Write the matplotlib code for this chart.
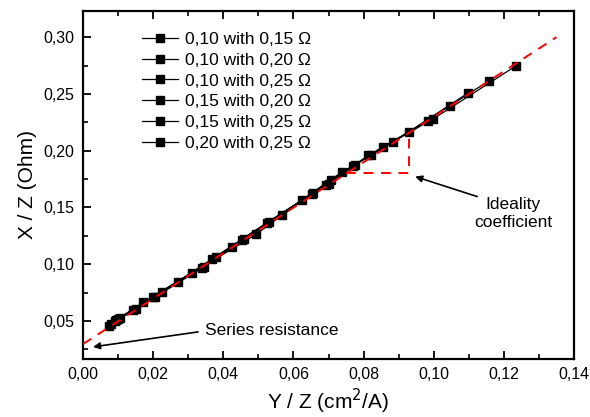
import matplotlib
matplotlib.use("Agg")
import matplotlib.pyplot as plt

plt.rcParams['font.family'] = ['Liberation Sans', 'DejaVu Sans']

labels = ["0,10 with 0,15 \u03a9", "0,10 with 0,20 \u03a9", "0,10 with 0,25 \u03a9",
          "0,15 with 0,20 \u03a9", "0,15 with 0,25 \u03a9", "0,20 with 0,25 \u03a9"]

s1_x = [0.0075, 0.0143, 0.0272, 0.0424, 0.0567, 0.0706, 0.0855, 0.0999, 0.1235]
s1_y = [0.0460, 0.0596, 0.0845, 0.1155, 0.1430, 0.1746, 0.2029, 0.2281, 0.2748]
s2_x = [0.0091, 0.0172, 0.0310, 0.0453, 0.0624, 0.0738, 0.0883, 0.1046, 0.1158]
s2_y = [0.0503, 0.0664, 0.0927, 0.1213, 0.1564, 0.1810, 0.2073, 0.2395, 0.2617]
s3_x = [0.0106, 0.0200, 0.0338, 0.0493, 0.0652, 0.0771, 0.0930, 0.1097]
s3_y = [0.0526, 0.0708, 0.0971, 0.1263, 0.1620, 0.1868, 0.2169, 0.2506]
s4_x = [0.0080, 0.0224, 0.0367, 0.0524, 0.0693, 0.0814, 0.0985]
s4_y = [0.0470, 0.0752, 0.1044, 0.1366, 0.1702, 0.1959, 0.2266]
s5_x = [0.0095, 0.0205, 0.0379, 0.0530, 0.0700, 0.0820]
s5_y = [0.0508, 0.0714, 0.1064, 0.1372, 0.1710, 0.1966]
s6_x = [0.0100, 0.0150, 0.0345, 0.0460, 0.0655, 0.0775]
s6_y = [0.0515, 0.0604, 0.0978, 0.1220, 0.1626, 0.1874]

series_x = [s1_x, s2_x, s3_x, s4_x, s5_x, s6_x]
series_y = [s1_y, s2_y, s3_y, s4_y, s5_y, s6_y]

fit_x = [0.0, 0.135]
fit_y = [0.0297, 0.300]
tri_x = [0.075, 0.093, 0.093]
tri_y = [0.180, 0.180, 0.216]

xticks = [0.00, 0.02, 0.04, 0.06, 0.08, 0.10, 0.12, 0.14]
xticklabels = ["0,00", "0,02", "0,04", "0,06", "0,08", "0,10", "0,12", "0,14"]
yticks = [0.05, 0.10, 0.15, 0.20, 0.25, 0.30]
yticklabels = ["0,05", "0,10", "0,15", "0,20", "0,25", "0,30"]

fig = plt.figure(figsize=(5.9, 4.17), dpi=100)
ax = fig.add_axes([0.1407, 0.139, 0.8322, 0.8353])

for xs, ys, lab in zip(series_x, series_y, labels):
    ax.plot(xs, ys, color='black', lw=0.9, marker='s', ms=6, mfc='black', mec='black', label=lab)

ax.plot(fit_x, fit_y, color='red', lw=1.4, ls=(0, (5, 4)), zorder=5)
ax.plot(tri_x, tri_y, color='red', lw=1.4, ls=(0, (5, 4)), zorder=5)

ax.set_xlim(0, 0.14)
ax.set_ylim(0.0165, 0.3233)
ax.set_xticks(xticks)
ax.set_xticklabels(xticklabels)
ax.set_yticks(yticks)
ax.set_yticklabels(yticklabels)
ax.set_xticks([0.01, 0.03, 0.05, 0.07, 0.09, 0.11, 0.13], minor=True)
ax.set_yticks([0.025, 0.075, 0.125, 0.175, 0.225, 0.275], minor=True)
ax.tick_params(which='both', direction='in', top=True, right=False, labelsize=11.5, pad=6)
ax.tick_params(which='major', length=6, width=1.3)
ax.tick_params(which='minor', length=3.5, width=1.2)
for sp in ax.spines.values():
    sp.set_linewidth(1.6)

ax.set_xlabel("Y / Z (cm$^2$/A)", fontsize=15, labelpad=3)
ax.set_ylabel("X / Z (Ohm)", fontsize=15, labelpad=5)

arrow = dict(arrowstyle='-|>', color='black', lw=1.2, mutation_scale=10, shrinkA=0, shrinkB=0)
ax.annotate("", xy=(0.00285, 0.0272), xytext=(0.0328, 0.0404), arrowprops=arrow)
ax.text(0.0348, 0.0412, "Series resistance", fontsize=12.5, va='center', ha='left')
ax.annotate("", xy=(0.0947, 0.1772), xytext=(0.1124, 0.1596), arrowprops=arrow)
ax.text(0.1226, 0.1447, "Ideality\ncoefficient", fontsize=12.5, va='center', ha='center',
        linespacing=1.2)

leg = ax.legend(loc='upper left', bbox_to_anchor=(0.105, 0.96), frameon=False, fontsize=12.5,
                handlelength=2.1, handletextpad=0.4, labelspacing=0.33, borderaxespad=0)

fig.savefig("out.png", dpi=100)
